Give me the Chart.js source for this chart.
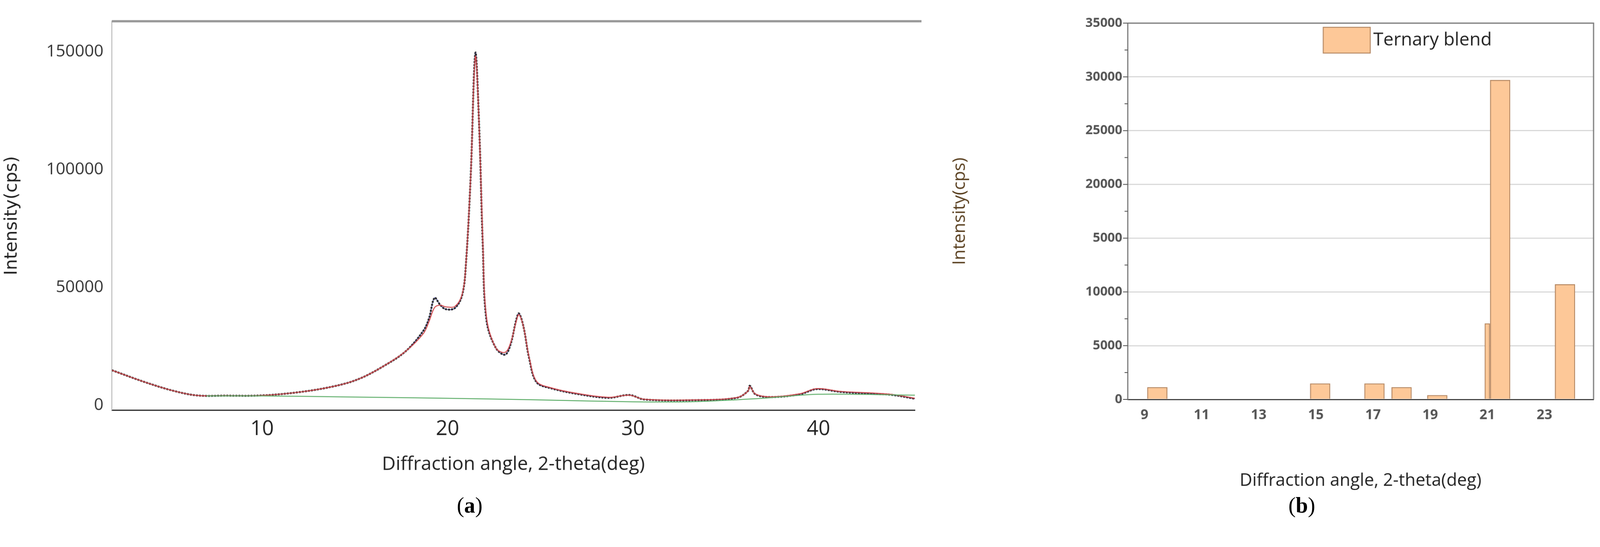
<!DOCTYPE html>
<html><head><meta charset="utf-8">
<script src="https://cdn.jsdelivr.net/npm/chart.js@4"></script>
<style>
html,body{margin:0;padding:0;background:#fff;overflow:hidden;font-family:"Open Sans",sans-serif}
#wrap{position:absolute;left:0;top:0;width:4220px;height:1401px;transform-origin:0 0}
#c1{position:absolute;left:0;top:0}
#c2{position:absolute;left:2500px;top:0}
.lab{position:absolute;font-family:"Liberation Serif",serif;font-size:58px;color:#000}
</style></head><body>
<div id="wrap">
<canvas id="c1" width="2430" height="1260" style="width:2430px;height:1260px"></canvas>
<canvas id="c2" width="1720" height="1300" style="width:1720px;height:1300px"></canvas>
<div class="lab" style="left:1205px;top:1300px">(<b>a</b>)</div>
<div class="lab" style="left:3398px;top:1300px">(<b>b</b>)</div>
</div>
<script>
(function(){const s=Math.min(window.innerWidth/4220,window.innerHeight/1401);if(s>0&&Math.abs(s-1)>0.002)document.getElementById('wrap').style.transform='scale('+s+')';})();
// ---- Chart (a) data ----
const xrdAngle = [1.9,3.7,5.25,6.5,8,10,12.1,14,15.25,16.5,17.75,18.7,19.0,19.3,19.6,19.9,20.4,20.8,21.0,21.25,21.5,21.7,21.9,22.1,22.6,23.1,23.4,23.7,23.85,24.1,24.4,24.8,25.6,27.1,28.7,29.8,30.6,33.4,35.6,36.2,36.3,36.6,37.4,39.0,39.9,41.2,42.75,44,45.2];
const xrdMeasured = [14900,9800,6100,4200,4100,4200,5700,8300,11300,16400,23000,31700,36900,45600,42700,40800,41300,47100,61000,97600,149500,119500,68300,36100,24400,21500,25900,36100,39000,33200,20000,9800,7200,4700,3200,4400,2500,2200,3200,6100,8300,4700,3500,4700,6900,5700,5000,4400,2800];
const xrdFitRed = [14900,9800,6100,4200,4100,4200,5700,8300,11300,16400,23000,30500,35500,41500,42500,41800,42000,47500,61000,97600,148000,119500,70000,37500,24400,22500,26500,35500,38500,33200,20500,10200,7400,4900,3400,4300,2600,2300,3300,6000,8000,4800,3600,4900,7100,5900,5300,4600,3000];
const baseAngle = [7,10,15,20,25,30,33,37,40,45.2];
const baseline = [4000,4000,3500,3000,2300,1500,1500,3000,4700,4300];
const yTicksA = [0,50000,100000,150000];
const xTicksA = [10,20,30,40];
// ---- Chart (b) data ----
const barAngle = [9.45,15.15,17.05,18.0,19.25,21.0,21.45,23.72];
const barWidthDeg = [0.7,0.7,0.7,0.7,0.7,0.18,0.7,0.7];
const barIntensity = [1130,1480,1480,1130,390,7060,29700,10700];
const yTickLabelsB = ['0','5000','10000','5000','20000','25000','30000','35000'];
const xTickLabelsB = [9,11,13,15,17,19,21,23];

const pts=(xs,ys)=>xs.map((x,i)=>({x,y:ys[i]}));
const tickFont={family:'"Open Sans", sans-serif',size:40};

new Chart(document.getElementById('c1'),{
  type:'line',
  data:{datasets:[
    {data:pts(baseAngle,baseline),borderColor:'#5fae6a',borderWidth:2.5,pointRadius:0,tension:0.3},
    {data:pts(xrdAngle,xrdFitRed),borderColor:'#d0484c',borderWidth:2.5,pointRadius:0,tension:0.35},
    {data:pts(xrdAngle,xrdMeasured),borderColor:'#2a2a2a',borderWidth:5,borderDash:[5,3],pointRadius:0,tension:0.35},
    {data:pts(xrdAngle,xrdMeasured),borderColor:'#4a4aa8',borderWidth:2,pointRadius:0,tension:0.35}
  ]},
  options:{responsive:false,animation:false,devicePixelRatio:1,
    layout:{padding:{top:56,right:17,left:0,bottom:0}},
    plugins:{legend:{display:false},tooltip:{enabled:false}},
    scales:{
      x:{type:'linear',min:1.9,max:45.2,
        afterBuildTicks:s=>{s.ticks=xTicksA.map(v=>({value:v}));},
        afterFit:s=>{s.height=178;},
        grid:{display:false,drawTicks:true,tickLength:10,tickColor:'#333'},
        border:{color:'#222',width:3},
        ticks:{font:{family:'"Open Sans", sans-serif',size:54},color:'#222',padding:8},
        title:{display:true,text:'Diffraction angle, 2-theta(deg)',font:{family:'"Open Sans", sans-serif',size:50},color:'#222',padding:{top:14}}},
      y:{min:-2000,max:163000,
        afterBuildTicks:s=>{s.ticks=yTicksA.map(v=>({value:v}));},
        afterFit:s=>{s.width=295;},
        grid:{display:false},
        border:{color:'#aaa',width:2},
        ticks:{font:{family:'"Open Sans", sans-serif',size:44},color:'#333',padding:14,callback:v=>String(v)},
        title:{display:true,text:'Intensity(cps)',font:{family:'"DejaVu Sans", sans-serif',size:46},color:'#222'}}
    }},
  plugins:[{id:'topframe',afterDraw(c){const a=c.chartArea,g=c.ctx;g.save();g.strokeStyle='#999';g.lineWidth=6;g.beginPath();g.moveTo(a.left,a.top);g.lineTo(a.right+17,a.top);g.stroke();g.restore();}}]
});

const wideIdx=barWidthDeg.map((w,i)=>i).filter(i=>barWidthDeg[i]>=0.5);
const narrowIdx=barWidthDeg.map((w,i)=>i).filter(i=>barWidthDeg[i]<0.5);
const thick=(deg)=>ctx=>{const s=ctx.chart.scales&&ctx.chart.scales.x;const p=s?s.getPixelForValue(deg)-s.getPixelForValue(0):NaN;return isFinite(p)&&p>0?p:53;};
const barStyle={grouped:false,backgroundColor:'#fdc898',borderColor:'#b58863',borderWidth:2.5};
new Chart(document.getElementById('c2'),{
  type:'bar',
  data:{datasets:[
    Object.assign({label:'Ternary blend',data:wideIdx.map(i=>({x:barAngle[i],y:barIntensity[i]})),barThickness:thick(barWidthDeg[wideIdx[0]])},barStyle),
    Object.assign({label:'Ternary blend',data:narrowIdx.map(i=>({x:barAngle[i],y:barIntensity[i]})),barThickness:thick(barWidthDeg[narrowIdx[0]])},barStyle)
  ]},
  options:{responsive:false,animation:false,devicePixelRatio:1,
    layout:{padding:{top:61,right:17,left:0,bottom:0}},
    plugins:{legend:{display:false},tooltip:{enabled:false}},
    scales:{
      x:{type:'linear',min:8.41,max:24.72,offset:false,
        afterBuildTicks:s=>{const t=[];for(let v=9;v<=24;v++)t.push({value:v});s.ticks=t;},
        afterFit:s=>{s.height=246;},
        grid:{display:false,drawTicks:true,tickLength:10,tickColor:'#444'},
        border:{color:'#444',width:3},
        ticks:{autoSkip:false,maxRotation:0,font:{family:'"Open Sans", sans-serif',size:36,weight:'bold'},color:'#555',padding:10,
          callback:v=>xTickLabelsB.includes(v)?String(v):''},
        title:{display:true,text:'Diffraction angle, 2-theta(deg)',font:{family:'"Open Sans", sans-serif',size:46},color:'#222',padding:{top:80}}},
      y:{min:0,max:35000,
        afterBuildTicks:s=>{const t=[];for(let v=0;v<=35000;v+=2500)t.push({value:v});s.ticks=t;},
        afterFit:s=>{s.width=474;},
        grid:{color:c=>c.tick&&c.tick.value%5000===0&&c.tick.value>0?'#d8d8d8':'rgba(0,0,0,0)',lineWidth:3,drawTicks:false},
        border:{color:'#777',width:3},
        ticks:{autoSkip:false,font:{family:'"Open Sans", sans-serif',size:34,weight:'bold'},color:'#555',padding:14,
          callback:v=>v%5000===0?yTickLabelsB[v/5000]:''},
        title:{display:true,text:'Intensity(cps)',font:{family:'"Open Sans", sans-serif',size:46},color:'#5a4020',padding:{bottom:110}}}
    }},
  plugins:[{id:'frame',afterDraw(c){const a=c.chartArea,g=c.ctx;g.save();g.strokeStyle='#777';g.lineWidth=3;
    g.beginPath();g.moveTo(a.left,a.top);g.lineTo(a.right,a.top);g.lineTo(a.right,a.bottom);g.stroke();
    g.strokeStyle='#444';g.lineWidth=2;
    for(let v=0;v<=35000;v+=2500){const y=c.scales.y.getPixelForValue(v);g.beginPath();g.moveTo(a.left-(v%5000===0?12:8),y);g.lineTo(a.left,y);g.stroke();}
    const lx=990,ly=72;g.fillStyle='#fdc898';g.strokeStyle='#b58863';g.lineWidth=2.5;g.fillRect(lx,ly,124,68);g.strokeRect(lx,ly,124,68);
    g.fillStyle='#222';g.font='48px "Open Sans", sans-serif';g.textBaseline='middle';g.fillText(c.data.datasets[0].label,lx+132,ly+34);
    g.restore();}}]
});
</script></body></html>
